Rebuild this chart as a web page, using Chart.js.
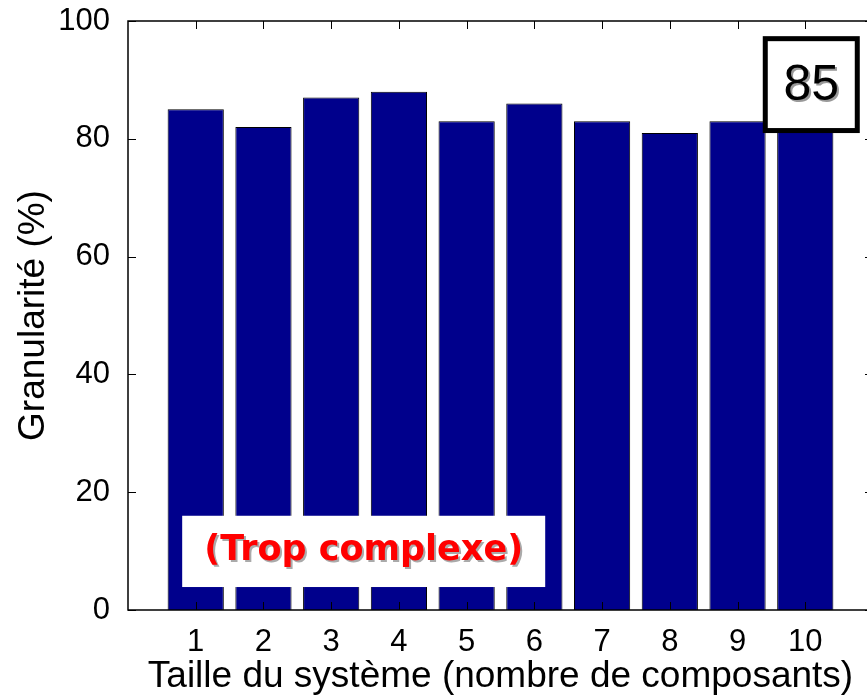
<!DOCTYPE html>
<html>
<head>
<meta charset="utf-8">
<script src="https://cdn.jsdelivr.net/npm/chart.js@4.4.1/dist/chart.umd.min.js"></script>
<style>
  html, body { margin: 0; padding: 0; background: #fff; overflow: hidden; }
  canvas { display: block; }
</style>
</head>
<body>
<canvas id="granChart" width="874" height="699"></canvas>
<script>
// data
var tailles = [1, 2, 3, 4, 5, 6, 7, 8, 9, 10];
var granularite = [85, 82, 87, 88, 83, 86, 83, 81, 83, 84];
var yTicks = [0, 20, 40, 60, 80, 100];
var moyenneLabel = '85';
var noteLabel = '(Trop complexe)';

var fontName = '"Liberation Sans", Arial, sans-serif';

// MATLAB-like box with inward ticks + the two text boxes
var matlabAxes = {
    id: 'matlabAxes',
    afterDatasetsDraw: function(chart) {
        var ctx = chart.ctx;
        var a = chart.chartArea;
        var xs = chart.scales.x, ys = chart.scales.y;
        ctx.save();
        ctx.strokeStyle = '#000';
        ctx.lineWidth = 1.5;
        ctx.strokeRect(a.left, a.top, a.right - a.left, a.bottom - a.top);
        ctx.lineWidth = 1;
        ctx.beginPath();
        tailles.forEach(function(t) {
            var px = Math.round(xs.getPixelForValue(t)) + 0.5;
            ctx.moveTo(px, a.bottom); ctx.lineTo(px, a.bottom - 8);
            ctx.moveTo(px, a.top); ctx.lineTo(px, a.top + 8);
        });
        yTicks.forEach(function(v) {
            var py = Math.round(ys.getPixelForValue(v)) + 0.5;
            ctx.moveTo(a.left, py); ctx.lineTo(a.left + 8, py);
            ctx.moveTo(a.right, py); ctx.lineTo(a.right - 8, py);
        });
        ctx.stroke();

        // "(Trop complexe)" white box
        var bx0 = xs.getPixelForValue(0.8), bx1 = xs.getPixelForValue(6.16);
        var by0 = ys.getPixelForValue(16), by1 = ys.getPixelForValue(3.9);
        ctx.fillStyle = '#fff';
        ctx.fillRect(bx0, by0, bx1 - bx0, by1 - by0);
        var size = 40;
        ctx.font = 'bold ' + size + 'px "DejaVu Sans", sans-serif';
        while (ctx.measureText(noteLabel).width > 322 && size > 10) {
            size -= 1;
            ctx.font = 'bold ' + size + 'px "DejaVu Sans", sans-serif';
        }
        ctx.textAlign = 'center';
        ctx.textBaseline = 'middle';
        var cx = (bx0 + bx1) / 2, cy = (by0 + by1) / 2;
        ctx.fillStyle = '#aaa';
        ctx.fillText(noteLabel, cx + 2, cy + 2);
        ctx.fillStyle = '#ff0000';
        ctx.fillText(noteLabel, cx, cy);

        // "85" box
        var kx0 = xs.getPixelForValue(10) - 40;
        var ky0 = ys.getPixelForValue(97), ky1 = ys.getPixelForValue(81.4);
        var kx1 = kx0 + 92;
        ctx.fillStyle = '#fff';
        ctx.fillRect(kx0, ky0, kx1 - kx0, ky1 - ky0);
        ctx.lineWidth = 5;
        ctx.strokeStyle = '#000';
        ctx.strokeRect(kx0, ky0, kx1 - kx0, ky1 - ky0);
        ctx.font = '50px ' + fontName;
        var mx = (kx0 + kx1) / 2, my = (ky0 + ky1) / 2 + 2;
        ctx.fillStyle = '#999';
        ctx.fillText(moyenneLabel, mx + 2, my + 2);
        ctx.fillStyle = '#000';
        ctx.fillText(moyenneLabel, mx, my);
        ctx.restore();
    }
};

var points = tailles.map(function(t, i) { return { x: t, y: granularite[i] }; });

new Chart(document.getElementById('granChart'), {
    type: 'bar',
    data: {
        datasets: [{
            data: points,
            backgroundColor: '#00008C',
            borderColor: '#000',
            borderWidth: 1,
            barPercentage: 0.83,
            categoryPercentage: 1
        }]
    },
    options: {
        responsive: false,
        animation: false,
        layout: { padding: { top: 21, right: 1, left: 0, bottom: 0 } },
        plugins: { legend: { display: false }, tooltip: { enabled: false } },
        scales: {
            x: {
                type: 'linear',
                offset: false,
                min: 0,
                max: 11,
                afterBuildTicks: function(scale) {
                    scale.ticks = tailles.map(function(t) { return { value: t }; });
                },
                afterFit: function(scale) {
                    scale.height = 89;
                    scale.paddingLeft = 0;
                    scale.paddingRight = 0;
                },
                grid: { display: false, offset: false },
                border: { display: false },
                ticks: {
                    color: '#000',
                    font: { family: fontName, size: 31 },
                    padding: 6,
                    maxRotation: 0,
                    autoSkip: false
                },
                title: {
                    display: true,
                    text: 'Taille du système (nombre de composants)',
                    color: '#000',
                    font: { family: fontName, size: 37 },
                    padding: { top: 0, bottom: 0 }
                }
            },
            y: {
                min: 0,
                max: 100,
                afterBuildTicks: function(scale) {
                    scale.ticks = yTicks.map(function(v) { return { value: v }; });
                },
                afterFit: function(scale) {
                    scale.width = 128;
                    scale.paddingTop = 0;
                    scale.paddingBottom = 0;
                },
                grid: { display: false },
                border: { display: false },
                ticks: {
                    color: '#000',
                    font: { family: fontName, size: 31 },
                    padding: 10
                },
                title: {
                    display: true,
                    text: 'Granularité (%)',
                    color: '#000',
                    font: { family: fontName, size: 37 },
                    padding: { top: 12, bottom: 0 }
                }
            }
        }
    },
    plugins: [matlabAxes]
});
</script>
</body>
</html>
